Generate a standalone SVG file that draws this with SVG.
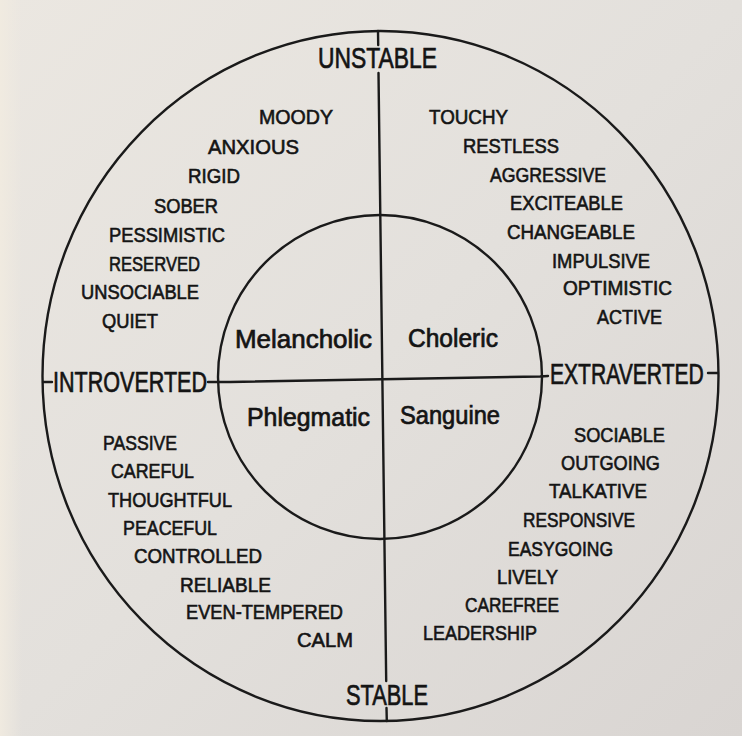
<svg xmlns="http://www.w3.org/2000/svg" width="742" height="736" viewBox="0 0 742 736">
<defs>
<linearGradient id="paper" x1="0" y1="0" x2="1" y2="1">
<stop offset="0" stop-color="#ebe7e1"/>
<stop offset="0.5" stop-color="#e3e0dc"/>
<stop offset="1" stop-color="#d9d5d2"/>
</linearGradient>
<linearGradient id="edge" x1="0" y1="0" x2="1" y2="0">
<stop offset="0" stop-color="#f1ebe0" stop-opacity="0.9"/>
<stop offset="1" stop-color="#f1ebe0" stop-opacity="0"/>
</linearGradient>
</defs>
<style>
.ln{fill:none;stroke:#1a1a1a;stroke-width:2.4;stroke-linecap:round}
text{font-family:"Liberation Sans",Arial,sans-serif;fill:#141414;stroke:#141414;stroke-width:0.6}
.w{font-size:20px}
.q{font-size:25px;stroke-width:0.7}
.ax{font-size:29px;stroke-width:0.7}
</style>
<rect x="0" y="0" width="742" height="736" fill="url(#paper)"/>
<rect x="0" y="0" width="22" height="736" fill="url(#edge)"/>

<g id="connectors">
<ellipse id="outer-circle" class="ln" cx="380.5" cy="376" rx="338" ry="345"/>
<circle id="inner-circle" class="ln" cx="380" cy="377" r="162"/>
<line class="ln" x1="378" y1="31" x2="378.2" y2="45"/>
<line class="ln" x1="378.5" y1="73" x2="386.2" y2="681"/>
<line class="ln" x1="386.5" y1="708" x2="386.8" y2="721"/>
<line class="ln" x1="43" y1="382" x2="52" y2="382"/>
<polyline class="ln" points="208,382 230,382 540,376.5 548,376"/>
<line class="ln" x1="708" y1="373" x2="718" y2="373"/>
</g>

<g id="axis-unstable"><text class="ax" x="318" y="68" textLength="119" lengthAdjust="spacingAndGlyphs">UNSTABLE</text></g>
<g id="axis-stable"><text class="ax" x="346" y="705" textLength="82" lengthAdjust="spacingAndGlyphs">STABLE</text></g>
<g id="axis-introverted"><text class="ax" x="53" y="392" textLength="154" lengthAdjust="spacingAndGlyphs">INTROVERTED</text></g>
<g id="axis-extraverted" transform="translate(550,384) scale(0.727,1)"><text class="ax" x="0" y="0">EXTRAVERTED</text></g>

<g id="melancholic"><text class="q" x="235" y="348" textLength="137" lengthAdjust="spacingAndGlyphs">Melancholic</text></g>
<g id="choleric"><text class="q" x="408" y="347" textLength="90" lengthAdjust="spacingAndGlyphs">Choleric</text></g>
<g id="phlegmatic"><text class="q" x="247" y="426" textLength="123" lengthAdjust="spacingAndGlyphs">Phlegmatic</text></g>
<g id="sanguine"><text class="q" x="400" y="424" textLength="100" lengthAdjust="spacingAndGlyphs">Sanguine</text></g>

<g id="traits-melancholic">
<text class="w" x="259" y="124" textLength="74" lengthAdjust="spacingAndGlyphs">MOODY</text>
<text class="w" x="208" y="154" textLength="91" lengthAdjust="spacingAndGlyphs">ANXIOUS</text>
<text class="w" x="188" y="183" textLength="52" lengthAdjust="spacingAndGlyphs">RIGID</text>
<text class="w" x="154" y="213" textLength="64" lengthAdjust="spacingAndGlyphs">SOBER</text>
<text class="w" x="109" y="242" textLength="116" lengthAdjust="spacingAndGlyphs">PESSIMISTIC</text>
<text class="w" x="109" y="271" textLength="91" lengthAdjust="spacingAndGlyphs">RESERVED</text>
<text class="w" x="81" y="299" textLength="118" lengthAdjust="spacingAndGlyphs">UNSOCIABLE</text>
<text class="w" x="102" y="328" textLength="56" lengthAdjust="spacingAndGlyphs">QUIET</text>
</g>

<g id="traits-choleric">
<text class="w" x="429" y="124" textLength="79" lengthAdjust="spacingAndGlyphs">TOUCHY</text>
<text class="w" x="463" y="153" textLength="96" lengthAdjust="spacingAndGlyphs">RESTLESS</text>
<text class="w" x="490" y="182" textLength="116" lengthAdjust="spacingAndGlyphs">AGGRESSIVE</text>
<text class="w" x="510" y="210" textLength="113" lengthAdjust="spacingAndGlyphs">EXCITEABLE</text>
<text class="w" x="507" y="239" textLength="128" lengthAdjust="spacingAndGlyphs">CHANGEABLE</text>
<text class="w" x="552" y="268" textLength="98" lengthAdjust="spacingAndGlyphs">IMPULSIVE</text>
<text class="w" x="563" y="295" textLength="109" lengthAdjust="spacingAndGlyphs">OPTIMISTIC</text>
<text class="w" x="597" y="324" textLength="65" lengthAdjust="spacingAndGlyphs">ACTIVE</text>
</g>

<g id="traits-phlegmatic">
<text class="w" x="103" y="450" textLength="74" lengthAdjust="spacingAndGlyphs">PASSIVE</text>
<text class="w" x="111" y="478" textLength="83" lengthAdjust="spacingAndGlyphs">CAREFUL</text>
<text class="w" x="108" y="507" textLength="124" lengthAdjust="spacingAndGlyphs">THOUGHTFUL</text>
<text class="w" x="123" y="535" textLength="94" lengthAdjust="spacingAndGlyphs">PEACEFUL</text>
<text class="w" x="134" y="563" textLength="128" lengthAdjust="spacingAndGlyphs">CONTROLLED</text>
<text class="w" x="180" y="592" textLength="91" lengthAdjust="spacingAndGlyphs">RELIABLE</text>
<text class="w" x="186" y="619" textLength="157" lengthAdjust="spacingAndGlyphs">EVEN-TEMPERED</text>
<text class="w" x="297" y="647" textLength="56" lengthAdjust="spacingAndGlyphs">CALM</text>
</g>

<g id="traits-sanguine">
<text class="w" x="574" y="442" textLength="91" lengthAdjust="spacingAndGlyphs">SOCIABLE</text>
<text class="w" x="561" y="470" textLength="99" lengthAdjust="spacingAndGlyphs">OUTGOING</text>
<text class="w" x="549" y="498" textLength="98" lengthAdjust="spacingAndGlyphs">TALKATIVE</text>
<text class="w" x="523" y="527" textLength="112" lengthAdjust="spacingAndGlyphs">RESPONSIVE</text>
<text class="w" x="508" y="556" textLength="105" lengthAdjust="spacingAndGlyphs">EASYGOING</text>
<text class="w" x="497" y="584" textLength="61" lengthAdjust="spacingAndGlyphs">LIVELY</text>
<text class="w" x="465" y="612" textLength="94" lengthAdjust="spacingAndGlyphs">CAREFREE</text>
<text class="w" x="423" y="640" textLength="114" lengthAdjust="spacingAndGlyphs">LEADERSHIP</text>
</g>
</svg>
